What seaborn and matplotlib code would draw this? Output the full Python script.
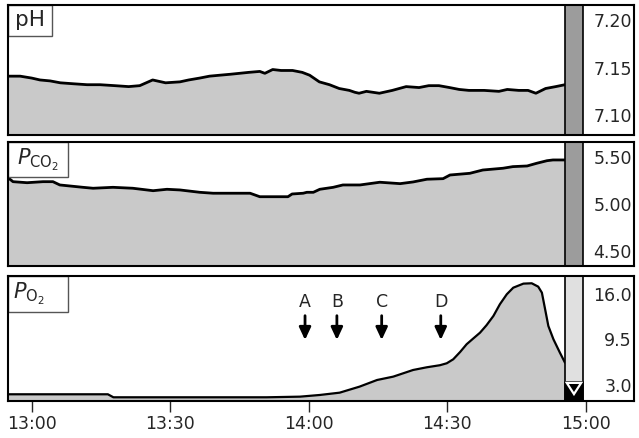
import numpy as np
import pandas as pd
import matplotlib
matplotlib.use("Agg")
import matplotlib.pyplot as plt
import seaborn as sns
from matplotlib.patches import Rectangle, Polygon

# ---------------- data (minutes after 13:00) ----------------
ph_time = [-5.1, -2.5, 0.0, 1.8, 4.0, 6.2, 9.0, 12.0, 14.8, 18.0, 21.0, 23.4,
           26.2, 29.0, 32.1, 34.0, 36.4, 38.5, 40.7, 43.0, 45.0, 47.0, 49.4,
           50.5, 52.2, 54.0, 56.5, 58.6, 60.2, 62.3, 64.5, 66.6, 68.8, 70.0,
           70.9, 72.5, 75.3, 78.1, 81.1, 83.9, 86.0, 88.2, 90.5, 92.6, 94.7,
           98.0, 101.2, 103.0, 105.5, 107.5, 109.2, 111.3, 113.5, 115.5]
ph_value = [7.141, 7.141, 7.139, 7.137, 7.136, 7.134, 7.133, 7.132, 7.132,
            7.131, 7.130, 7.131, 7.137, 7.134, 7.135, 7.137, 7.139, 7.141,
            7.142, 7.143, 7.144, 7.145, 7.146, 7.144, 7.148, 7.147, 7.147,
            7.145, 7.142, 7.135, 7.132, 7.128, 7.126, 7.124, 7.123, 7.125,
            7.123, 7.126, 7.130, 7.129, 7.131, 7.131, 7.129, 7.127, 7.126,
            7.126, 7.125, 7.127, 7.126, 7.126, 7.123, 7.128, 7.130, 7.132]

pco2_time = [-5.13, -4.05, -1.0, 2.45, 4.6, 6.1, 11.1, 13.3, 17.6, 21.9, 26.3,
             29.3, 32.1, 36.4, 39.3, 47.3, 49.4, 52.3, 55.5, 56.4, 58.8, 59.6,
             61.0, 62.4, 65.3, 67.4, 71.1, 75.4, 79.8, 82.6, 85.6, 89.1, 90.6,
             94.9, 97.7, 102.1, 104.2, 107.3, 109.4, 111.6, 112.9, 115.5]
pco2_value = [5.277, 5.234, 5.223, 5.234, 5.234, 5.199, 5.174, 5.164, 5.174,
              5.164, 5.138, 5.153, 5.146, 5.121, 5.111, 5.111, 5.074, 5.074,
              5.074, 5.103, 5.111, 5.121, 5.121, 5.153, 5.174, 5.199, 5.199,
              5.228, 5.213, 5.231, 5.260, 5.266, 5.305, 5.323, 5.358, 5.377,
              5.394, 5.401, 5.430, 5.457, 5.465, 5.465]

po2_time = [-5.13, 16.5, 17.7, 50.9, 58.1, 62.4, 66.7, 71.0, 74.8, 78.3, 82.6,
            85.6, 88.4, 89.9, 91.3, 92.8, 94.2, 95.6, 97.1, 98.5, 100.0, 101.4,
            102.9, 104.3, 106.5, 108.3, 109.7, 110.5, 111.2, 111.9, 113.0,
            114.4, 115.5]
po2_value = [1.67, 1.67, 1.24, 1.24, 1.33, 1.57, 1.90, 2.76, 3.71, 4.19, 5.14,
             5.53, 5.82, 6.10, 6.67, 7.72, 8.82, 9.62, 10.47, 11.53, 12.86,
             14.53, 15.96, 16.90, 17.48, 17.53, 17.05, 16.19, 13.82, 11.43,
             9.53, 7.62, 6.19]

event_labels = ["A", "B", "C", "D"]
event_times = [59.2, 66.1, 75.8, 88.6]

x_tick_times = [0, 30, 60, 90, 120]
x_tick_labels = ["13:00", "13:30", "14:00", "14:30", "15:00"]

ph_ticks = [7.10, 7.15, 7.20]
ph_tick_labels = ["7.10", "7.15", "7.20"]
pco2_ticks = [4.50, 5.00, 5.50]
pco2_tick_labels = ["4.50", "5.00", "5.50"]
po2_ticks = [3.0, 9.5, 16.0]
po2_tick_labels = ["3.0", "9.5", "16.0"]

# ---------------- style ----------------
sns.set_style("white")
plt.rcParams["font.family"] = ["DejaVu Sans"]
plt.rcParams["mathtext.fontset"] = "dejavusans"

FILL = "#c9c9c9"
W, H = 639, 438
XLIM = (-5.13, 130.45)
BAR = (115.5, 119.4)
TS = 12.5

fig = plt.figure(figsize=(W / 100, H / 100), dpi=100)


def make_ax(top, bottom):
    return fig.add_axes([8 / W, 1 - bottom / H, 626 / W, (bottom - top) / H])


def panel(ax, t, v, ylim, ticks, labels, lw, bar_color):
    ax.set_xlim(*XLIM)
    ax.set_ylim(*ylim)
    ax.fill_between(t, v, ylim[0], color=FILL, lw=0, zorder=1)
    sns.lineplot(x=t, y=v, ax=ax, color="black", lw=lw, zorder=3,
                 sort=False, estimator=None)
    ax.axvspan(BAR[0], BAR[1], facecolor=bar_color, edgecolor="black",
               lw=1.2, zorder=4)
    ax.yaxis.tick_right()
    ax.set_yticks(ticks)
    ax.set_yticklabels(labels)
    ax.tick_params(axis="y", length=0, pad=-1.5, labelsize=TS)
    for lbl in ax.get_yticklabels():
        lbl.set_horizontalalignment("right")
    ax.set_xlabel("")
    ax.set_ylabel("")
    for s in ax.spines.values():
        s.set_linewidth(1.5)
        s.set_color("black")
        s.set_zorder(6)


def label_box(ax, wpx, hpx, axw, axh, text, xpx=None, size=14):
    ax.add_patch(Rectangle((0, 1 - hpx / axh), wpx / axw, hpx / axh,
                           transform=ax.transAxes, facecolor="white",
                           edgecolor="#555555", lw=1.0, zorder=5))
    if xpx is None:
        ax.text(wpx / axw / 2, 1 - hpx / axh / 2, text, transform=ax.transAxes,
                ha="center", va="center", fontsize=size, zorder=7)
    else:
        ax.text(xpx / axw, 1 - hpx / axh / 2, text, transform=ax.transAxes,
                ha="left", va="center", fontsize=size, zorder=7)


# pH
ax1 = make_ax(5, 135)
panel(ax1, ph_time, ph_value, (7.079, 7.216), ph_ticks, ph_tick_labels, 2.0,
      "#9c9c9c")
ax1.set_xticks([])
label_box(ax1, 44, 31, 626, 130, "pH", size=15.5)

# PCO2
ax2 = make_ax(142, 266)
panel(ax2, pco2_time, pco2_value, (4.337, 5.656), pco2_ticks,
      pco2_tick_labels, 2.0, "#9c9c9c")
ax2.set_xticks([])
label_box(ax2, 60, 35, 626, 124, r"$P_{\mathrm{CO}_2}$", size=15)

# PO2
ax3 = make_ax(276, 401)
panel(ax3, po2_time, po2_value, (0.71, 18.57), po2_ticks, po2_tick_labels,
      1.6, "#e0e0e0")
label_box(ax3, 60, 36, 626, 125, r"$P_{\mathrm{O}_2}$", xpx=5, size=15)
ax3.add_patch(Rectangle((BAR[0], 0.71), BAR[1] - BAR[0], 3.47 - 0.71,
                        facecolor="black", edgecolor="black", lw=1.2,
                        zorder=5))
bw = BAR[1] - BAR[0]
ax3.add_patch(Polygon([(BAR[0] + 0.1 * bw, 3.3), (BAR[1] - 0.1 * bw, 3.3),
                       ((BAR[0] + BAR[1]) / 2, 1.7)], closed=True,
                      facecolor="black", edgecolor="white", lw=1.6, zorder=6))
for lab, tt in zip(event_labels, event_times):
    ax3.annotate("", xy=(tt, 9.43), xytext=(tt, 12.9),
                 arrowprops=dict(arrowstyle="-|>,head_width=0.35,head_length=0.75",
                                 lw=2, color="black", shrinkA=0, shrinkB=0))
    ax3.text(tt, 14.9, lab, ha="center", va="center", fontsize=TS)

ax3.set_xticks(x_tick_times)
ax3.set_xticklabels(x_tick_labels)
ax3.tick_params(axis="x", bottom=True, direction="out", length=8, width=1,
                labelsize=TS, pad=2)

fig.savefig("out.png", dpi=100)
